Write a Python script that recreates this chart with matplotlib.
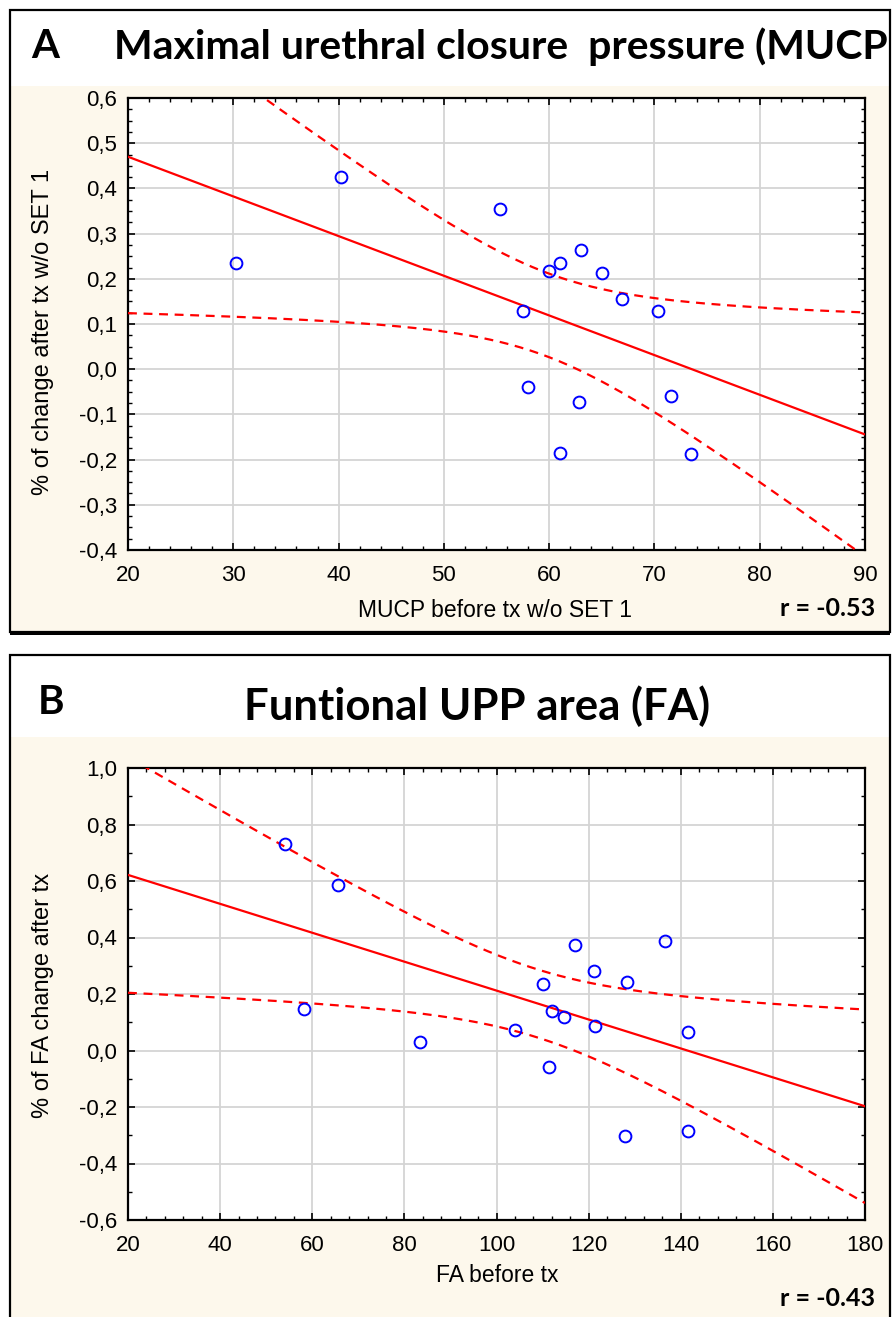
import numpy as np
import matplotlib
matplotlib.use("Agg")
import matplotlib.pyplot as plt
from matplotlib.patches import Rectangle
from matplotlib.ticker import MultipleLocator, FuncFormatter

# panel A: MUCP before tx vs % change
mucp_x = [30.3, 40.2, 55.3, 63.0, 61.0, 60.0, 65.0, 66.9, 70.3, 57.5, 58.0, 62.8, 71.6, 61.0, 73.5]
mucp_y = [0.235, 0.425, 0.355, 0.263, 0.236, 0.218, 0.213, 0.156, 0.129, 0.129,
          -0.039, -0.073, -0.059, -0.185, -0.187]

# panel B: FA before tx vs % FA change
fa_x = [54.0, 65.6, 58.3, 83.3, 104.0, 110.1, 117.1, 121.1, 128.3, 136.5,
        112.0, 114.7, 121.4, 141.6, 111.3, 127.9, 141.6]
fa_y = [0.73, 0.587, 0.147, 0.029, 0.073, 0.234, 0.372, 0.282, 0.242, 0.388,
        0.139, 0.12, 0.086, 0.065, -0.06, -0.304, -0.286]

W, H = 894, 1317
CREAM = "#fdf8ec"
TITLE_FONT = ["Lato", "DejaVu Sans"]

plt.rcParams["font.family"] = ["Liberation Sans", "DejaVu Sans"]
plt.rcParams["xtick.labelsize"] = 16
plt.rcParams["ytick.labelsize"] = 16

fig = plt.figure(figsize=(W / 100, H / 100), dpi=100)
fig.patch.set_facecolor("white")


def px(x, y):
    return x / W, 1 - y / H


def frame(top, bottom, band):
    # white title band + cream body, black border
    x0, y0 = px(10, bottom)
    fig.patches.append(Rectangle((x0, y0), 880 / W, (bottom - band) / H,
                                 transform=fig.transFigure, facecolor=CREAM,
                                 edgecolor="none", zorder=-3))
    fig.patches.append(Rectangle((x0, y0), 880 / W, (bottom - top) / H,
                                 transform=fig.transFigure, facecolor="none",
                                 edgecolor="black", linewidth=1.6, zorder=-2))


def comma(v, pos, nd):
    return f"{v:.{nd}f}".replace(".", ",")


def scatter_fit(ax, x, y, xlim, ylim, xmaj, xmin, ymaj, ymin, nd, tcrit):
    x = np.asarray(x)
    y = np.asarray(y)
    slope, icpt = np.polyfit(x, y, 1)
    n = len(x)
    resid = y - (slope * x + icpt)
    s = np.sqrt(np.sum(resid ** 2) / (n - 2))
    sxx = np.sum((x - x.mean()) ** 2)
    xs = np.linspace(xlim[0], xlim[1], 300)
    fit = slope * xs + icpt
    half = tcrit * s * np.sqrt(1 / n + (xs - x.mean()) ** 2 / sxx)

    ax.plot(xs, fit, color="red", lw=1.6, zorder=3)
    ax.plot(xs, fit + half, color="red", lw=1.6, ls=(0, (4, 3)), zorder=3)
    ax.plot(xs, fit - half, color="red", lw=1.6, ls=(0, (4, 3)), zorder=3)
    ax.plot(x, y, "o", mfc="none", mec="blue", mew=1.4, ms=8.5, zorder=4, clip_on=False)

    ax.set_xlim(*xlim)
    ax.set_ylim(*ylim)
    ax.xaxis.set_major_locator(MultipleLocator(xmaj))
    ax.xaxis.set_minor_locator(MultipleLocator(xmin))
    ax.yaxis.set_major_locator(MultipleLocator(ymaj))
    ax.yaxis.set_minor_locator(MultipleLocator(ymin))
    ax.yaxis.set_major_formatter(FuncFormatter(lambda v, p: comma(v, p, nd)))
    ax.grid(True, which="major", color="#d4d4d4", lw=1.3)
    ax.set_axisbelow(True)
    ax.tick_params(which="both", direction="in", top=True, right=True,
                   labeltop=False, labelright=False, color="black")
    ax.tick_params(which="major", length=5, width=1.2)
    ax.tick_params(axis="x", which="major", pad=11)
    ax.tick_params(axis="y", which="major", pad=8)
    ax.tick_params(which="minor", length=3, width=1.0)
    for sp in ax.spines.values():
        sp.set_linewidth(1.6)
        sp.set_color("black")
    ax.set_facecolor("white")


# ---------- panel A ----------
frame(10, 632, 86)
fig.patches.append(Rectangle(px(10, 635), 880 / W, 3 / H, transform=fig.transFigure,
                             facecolor="black", edgecolor="none", zorder=-2))
axA = fig.add_axes([128 / W, 1 - 550 / H, 737 / W, 452 / H], zorder=2)
scatter_fit(axA, mucp_x, mucp_y, (20, 90), (-0.4, 0.6), 10, 2, 0.1, 0.025, 1, 2.160)

fig.text(*px(31, 47), "A", fontsize=29, fontweight="bold", family=TITLE_FONT,
         va="center", ha="left")
fig.text(*px(114, 47), "Maximal urethral closure  pressure (MUCP", fontsize=29.5,
         fontweight="bold", family=TITLE_FONT, va="center", ha="left")
fig.text(*px(495, 611), "MUCP before tx w/o SET 1", fontsize=16.5,
         ha="center", va="center")
fig.text(*px(43, 332), "% of change after tx w/o SET 1", fontsize=17,
         ha="center", va="center", rotation=90)
fig.text(*px(875, 609), "r = -0.53", fontsize=18, fontweight="bold", family=TITLE_FONT,
         ha="right", va="center")

# ---------- panel B ----------
frame(655, 1330, 737)
axB = fig.add_axes([128 / W, 1 - 1220 / H, 737 / W, 452 / H], zorder=2)
scatter_fit(axB, fa_x, fa_y, (20, 180), (-0.6, 1.0), 20, 4, 0.2, 0.1, 1, 2.131)

fig.text(*px(38, 703), "B", fontsize=29, fontweight="bold", family=TITLE_FONT,
         va="center", ha="left")
fig.text(*px(477, 706), "Funtional UPP area (FA)", fontsize=31.5, fontweight="bold",
         family=TITLE_FONT, va="center", ha="center")
fig.text(*px(497, 1275), "FA before tx", fontsize=16.5,
         ha="center", va="center")
fig.text(*px(43, 995), "% of FA change after tx", fontsize=17,
         ha="center", va="center", rotation=90)
fig.text(*px(875, 1298), "r = -0.43", fontsize=18, fontweight="bold", family=TITLE_FONT,
         ha="right", va="center")

fig.savefig("out.png", dpi=100)
